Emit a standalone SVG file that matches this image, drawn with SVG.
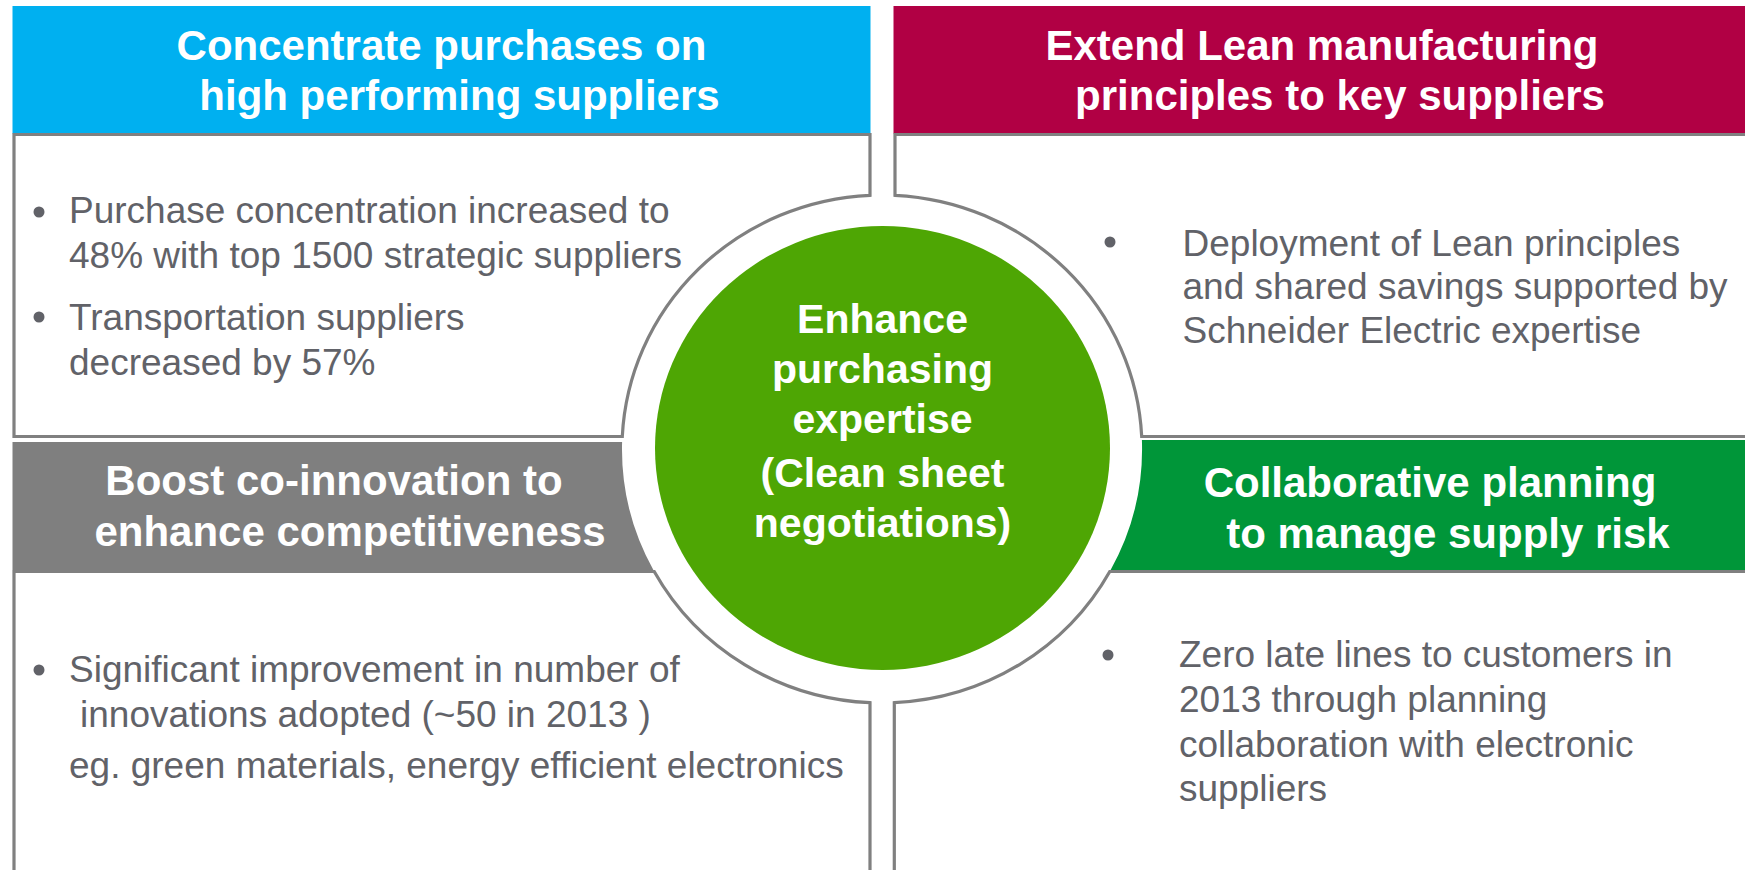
<svg xmlns="http://www.w3.org/2000/svg" width="1745" height="870" viewBox="0 0 1745 870">
<style>
.box{fill:#ffffff;stroke:#808080;stroke-width:3.2}
.hd{font-family:"Liberation Sans",Arial,sans-serif;font-weight:bold;font-size:42px;fill:#ffffff;text-anchor:middle}
.ct{font-family:"Liberation Sans",Arial,sans-serif;font-weight:bold;font-size:41px;fill:#ffffff;text-anchor:middle}
.bd{font-family:"Liberation Sans",Arial,sans-serif;font-size:37px;fill:#616268}
.bul{fill:#616268}
</style>
<rect x="0" y="0" width="1745" height="870" fill="#ffffff"/>
<g id="q-top-left">
<rect x="12.5" y="6" width="858" height="127.5" fill="#00B0F0"/>
<path class="box" d="M14,134.5 H870 V195.3 A260,254 0 0 0 622.3,436.5 H14 Z"/>
<text class="hd" x="441.5" y="60">Concentrate purchases on</text>
<text class="hd" x="459.5" y="110">high performing suppliers</text>
<circle class="bul" cx="39" cy="212" r="5.5"/>
<text class="bd" x="69" y="223">Purchase concentration increased to</text>
<text class="bd" x="69" y="268">48% with top 1500 strategic suppliers</text>
<circle class="bul" cx="39" cy="317" r="5.5"/>
<text class="bd" x="69" y="330">Transportation suppliers</text>
<text class="bd" x="69" y="375">decreased by 57%</text>
</g>
<g id="q-top-right">
<rect x="893.5" y="6" width="852" height="127.5" fill="#B10044"/>
<path class="box" d="M895,134.5 H1750 V436.5 H1141.7 A260,254 0 0 0 895,195.3 Z"/>
<text class="hd" x="1322" y="60">Extend Lean manufacturing</text>
<text class="hd" x="1340" y="110">principles to key suppliers</text>
<circle class="bul" cx="1110" cy="242" r="5.5"/>
<text class="bd" x="1182.5" y="256">Deployment of Lean principles</text>
<text class="bd" x="1182.5" y="299">and shared savings supported by</text>
<text class="bd" x="1182.5" y="343">Schneider Electric expertise</text>
</g>
<g id="q-bottom-left">
<path d="M12.5,442 H622.1 A260,254 0 0 0 653.4,570 H12.5 Z" fill="#7F7F7F"/>
<path class="box" d="M14,571.5 H654.2 A260,254 0 0 0 870,702.7 V880 H14 Z"/>
<text class="hd" x="334" y="495">Boost co-innovation to</text>
<text class="hd" x="350" y="546">enhance competitiveness</text>
<circle class="bul" cx="39" cy="670" r="5.5"/>
<text class="bd" x="69" y="682">Significant improvement in number of</text>
<text class="bd" x="80" y="727">innovations adopted (~50 in 2013 )</text>
<text class="bd" x="69" y="778">eg. green materials, energy efficient electronics</text>
</g>
<g id="q-bottom-right">
<path d="M1745,440 H1141.9 A260,254 0 0 1 1110.6,570 H1745 Z" fill="#009639"/>
<path class="box" d="M894.3,880 V702.7 A260,254 0 0 0 1109.8,571.5 H1750 V880 Z"/>
<text class="hd" x="1430" y="497">Collaborative planning</text>
<text class="hd" x="1448" y="548">to manage supply risk</text>
<circle class="bul" cx="1108" cy="655" r="5.5"/>
<text class="bd" x="1179" y="667">Zero late lines to customers in</text>
<text class="bd" x="1179" y="712">2013 through planning</text>
<text class="bd" x="1179" y="757">collaboration with electronic</text>
<text class="bd" x="1179" y="801">suppliers</text>
</g>
<g id="center">
<ellipse cx="882.5" cy="448" rx="227.5" ry="222" fill="#4EA604"/>
<text class="ct" x="882.5" y="333">Enhance</text>
<text class="ct" x="882.5" y="383">purchasing</text>
<text class="ct" x="882.5" y="433">expertise</text>
<text class="ct" x="882.5" y="487">(Clean sheet</text>
<text class="ct" x="882.5" y="537">negotiations)</text>
</g>
<g id="connectors"></g>
</svg>
